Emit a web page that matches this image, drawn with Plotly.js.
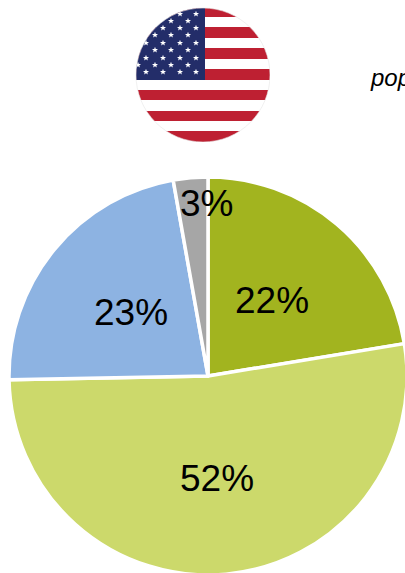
<!DOCTYPE html>
<html><head><meta charset="utf-8">
<script src="https://cdn.plot.ly/plotly-3.0.1.min.js"></script>
<style>html,body{margin:0;padding:0;background:#fff;overflow:hidden;width:405px;height:573px}</style>
</head><body><div id="chart"></div>
<script>
const sliceNames = ['Segment A','Segment B','Segment C','Segment D'];
const sliceValues = [22.4, 52.3, 22.5, 2.8];
const sliceLabels = ['22%','52%','23%','3%'];
const sliceColors = ['#A2B41F','#CCD96B','#8DB3E2','#A6A6A6'];
const labelRadius = [0.5,0.515,0.5,0.87];
const labelShiftX = [0,0,0,14];
const cutOffWord = 'population';

function star(cx,cy,r){
  let p=[];
  for(let i=0;i<10;i++){
    const a=-Math.PI/2+i*Math.PI/5, q=i%2?r*0.42:r;
    p.push((cx+q*Math.cos(a)).toFixed(1)+','+(cy+q*Math.sin(a)).toFixed(1));
  }
  return '<polygon fill="#fff" points="'+p.join(' ')+'"/>';
}
let s='<svg xmlns="http://www.w3.org/2000/svg" width="136" height="136" viewBox="134 6 136 136"><defs><clipPath id="c"><circle cx="203" cy="75" r="67"/></clipPath></defs><g clip-path="url(#c)"><rect x="134" y="6" width="140" height="140" fill="#fff"/>';
const stripes=[[6,17],[27,38],[48,59],[69,80],[90,100],[111,121],[131,144]];
stripes.forEach(r=>{s+='<rect x="134" y="'+r[0]+'" width="140" height="'+(r[1]-r[0])+'" fill="#BE2032"/>';});
s+='<rect x="134" y="6" width="71" height="74" fill="#232D69"/>';
const rowY=[14,21,28,35,43,50,58,65,72];
rowY.forEach((y,i)=>{
  const xs=i%2===0?[129.5,146,163,180,196]:[138,155,171,188];
  xs.forEach(x=>{s+=star(x,y,3.2);});
});
s+='</g><circle cx="203" cy="75" r="67" fill="none" stroke="#e6e6e6" stroke-width="0.6"/></svg>';

const W=420,H=580;
const CX=208,CY=376,R=199;
const total=sliceValues.reduce((a,b)=>a+b,0);
let run=0;
const labelAnn=sliceValues.map((v,i)=>{
  const mid=(run+v/2)/total*2*Math.PI; run+=v;
  const px=CX+R*labelRadius[i]*Math.sin(mid)+labelShiftX[i];
  const py=CY-R*labelRadius[i]*Math.cos(mid);
  return {text:sliceLabels[i],xref:'paper',yref:'paper',x:px/W,y:1-py/H,xanchor:'center',yanchor:'middle',
    showarrow:false,font:{family:'Liberation Sans',size:37,color:'#000'}};
});
const data=[{
  type:'pie',
  labels:sliceNames, values:sliceValues,
  textinfo:'none',
  sort:false, direction:'clockwise', rotation:0,
  marker:{colors:sliceColors,line:{color:'#fff',width:3.5}},
  domain:{x:[(CX-R)/W,(CX+R)/W],y:[(H-CY-R)/H,(H-CY+R)/H]},
  hoverinfo:'none'
}];
const layout={
  width:W,height:H,margin:{l:0,r:0,t:0,b:0},showlegend:false,
  paper_bgcolor:'#fff',
  images:[{source:'data:image/svg+xml;charset=utf-8,'+encodeURIComponent(s),xref:'paper',yref:'paper',
    x:134/W,y:1-6/H,sizex:136/W,sizey:136/H,xanchor:'left',yanchor:'top',sizing:'stretch',layer:'above'}],
  annotations:labelAnn.concat([{text:'<i>'+cutOffWord+'</i>',xref:'paper',yref:'paper',x:368/W,y:1-78/H,xanchor:'left',yanchor:'middle',
    showarrow:false,font:{family:'Liberation Sans',size:24,color:'#000'}}])
};
Plotly.newPlot('chart',data,layout,{displayModeBar:false,staticPlot:true});
</script></body></html>
